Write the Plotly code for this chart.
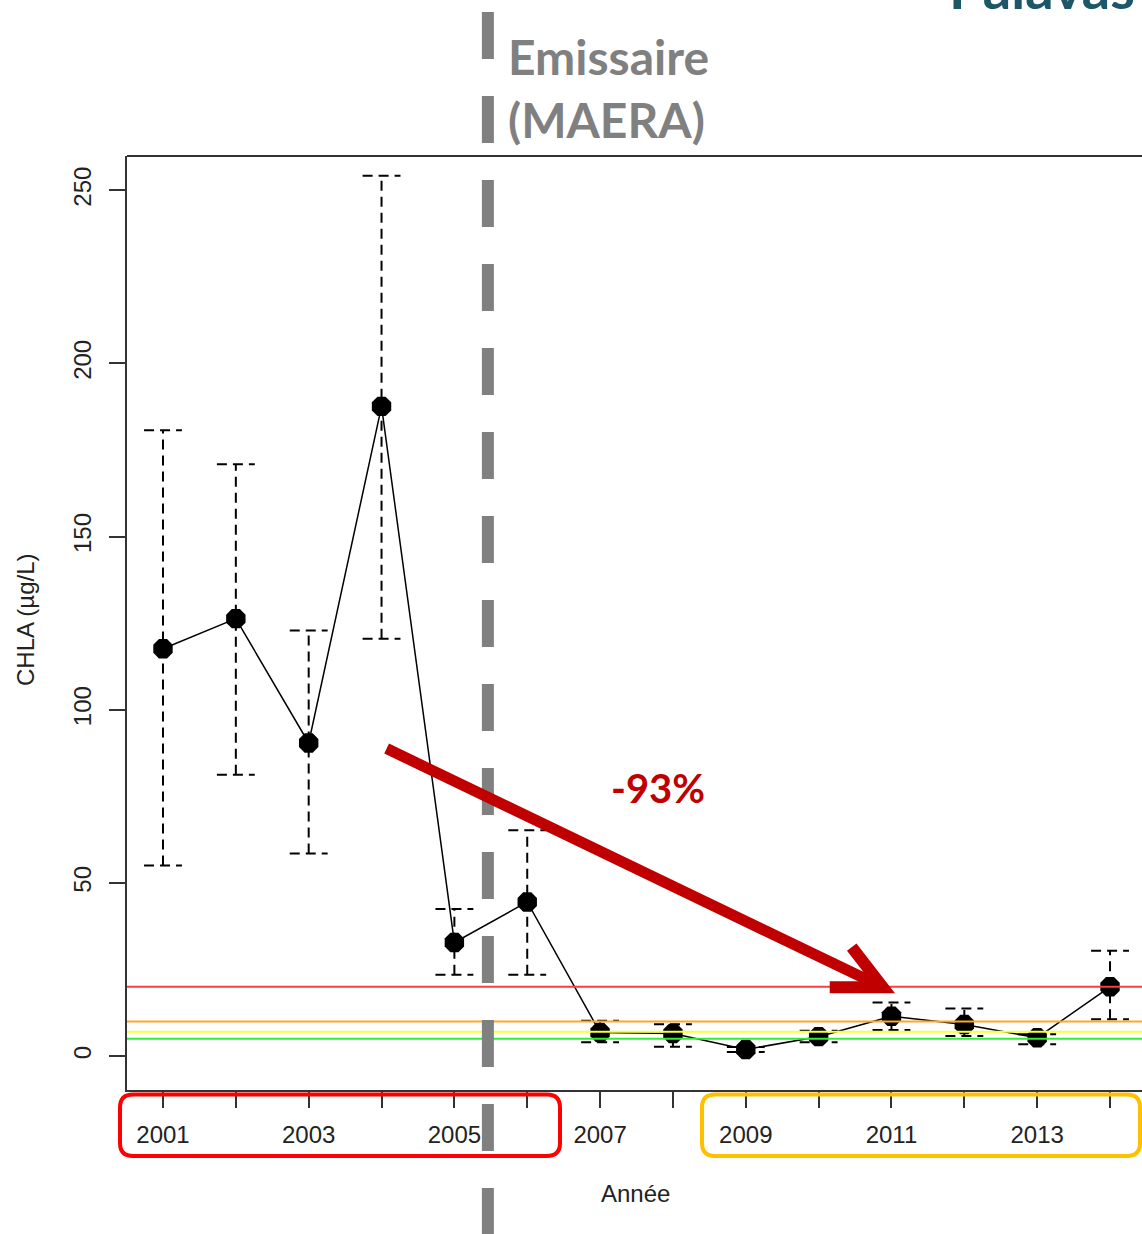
import plotly.graph_objects as go

# Chlorophyll-a yearly means (µg/L) with their upper / lower error limits
years = list(range(2001, 2015))
chla_mean = [117.6, 126.3, 90.4, 187.6, 32.8, 44.5, 6.8, 6.5, 1.9, 5.6, 11.5, 9.1, 5.3, 20.0]
chla_upper = [180.7, 170.9, 122.9, 254.2, 42.5, 65.2, 10.2, 9.2, 2.6, 7.3, 15.5, 13.7, 6.3, 30.4]
chla_lower = [55.0, 81.2, 58.5, 120.5, 23.5, 23.5, 4.0, 2.7, 1.2, 4.0, 7.5, 5.8, 3.4, 10.6]

x_tick_labels = [str(y) if y % 2 == 1 else "" for y in years]
y_tick_values = [0, 50, 100, 150, 200, 250]

# Quality-class thresholds (µg/L)
thresholds = [20, 10, 7, 5]
threshold_colors = ["#ff3b3b", "#ffa726", "#ffff2e", "#2ef02e"]

outfall_year = 2005.46          # commissioning of the sea outfall
arrow_start = (2004.07, 88.8)
arrow_end = (2010.88, 19.9)
trend_label = "-93%"

# ---- layout geometry (pixels) ----
W, H = 1142, 1234
PL, PR, PT, PB = 127, 1142, 156, 1090


def px_x(p):
    return (p - PL) / (PR - PL)


def px_y(p):
    return (PB - p) / (PB - PT)


def rounded_rect(x0, y0, x1, y1, r):
    return (f"M {x0 + r},{y0} L {x1 - r},{y0} Q {x1},{y0} {x1},{y0 + r} "
            f"L {x1},{y1 - r} Q {x1},{y1} {x1 - r},{y1} L {x0 + r},{y1} "
            f"Q {x0},{y1} {x0},{y1 - r} L {x0},{y0 + r} Q {x0},{y0} {x0 + r},{y0} Z")


R_FONT = "Liberation Sans, Arial, sans-serif"
PPT_FONT = "Lato, Open Sans, sans-serif"
AXIS_COLOR = "#333333"

# dashed error bars with caps
cap = 0.26
ex, ey = [], []
for x, lo, hi in zip(years, chla_lower, chla_upper):
    ex += [x, x, None, x - cap, x + cap, None, x - cap, x + cap, None]
    ey += [lo, hi, None, hi, hi, None, lo, lo, None]

fig = go.Figure()
fig.add_trace(go.Scatter(
    x=ex, y=ey, mode="lines",
    line=dict(color="black", width=2, dash="10px,6px"),
    hoverinfo="skip", showlegend=False,
))
fig.add_trace(go.Scatter(
    x=years, y=chla_mean, mode="lines+markers",
    line=dict(color="black", width=1.5),
    marker=dict(symbol="octagon", size=21, color="black"),
    showlegend=False,
))

shapes = []
# threshold lines
for t, c in zip(thresholds, threshold_colors):
    shapes.append(dict(type="line", xref="paper", yref="y", x0=0, x1=1, y0=t, y1=t,
                       line=dict(color=c, width=2), layer="above"))
# top frame line
shapes.append(dict(type="line", xref="paper", yref="paper", x0=0, x1=1, y0=1, y1=1,
                   line=dict(color=AXIS_COLOR, width=2)))
# outfall marker
shapes.append(dict(type="line", xref="x", yref="paper", x0=outfall_year, x1=outfall_year,
                   y0=px_y(12), y1=px_y(1250),
                   line=dict(color="#808080", width=12, dash="47px,37px"), layer="above"))
# trend arrow: shaft + open head
shapes.append(dict(type="line", xref="x", yref="y",
                   x0=arrow_start[0], y0=arrow_start[1], x1=arrow_end[0], y1=arrow_end[1],
                   line=dict(color="#c00000", width=11), layer="above"))
shapes.append(dict(type="path", xref="x", yref="y", xsizemode="pixel", ysizemode="pixel",
                   xanchor=arrow_end[0], yanchor=arrow_end[1],
                   path="M -31,40 L 0,0 L -53,0",
                   line=dict(color="#c00000", width=12), layer="above"))
# period boxes under the year labels
shapes.append(dict(type="path", xref="paper", yref="paper", xsizemode="pixel", ysizemode="pixel",
                   xanchor=0, yanchor=0, path=rounded_rect(-7, -66, 433, -4.5, 13),
                   line=dict(color="#ff0000", width=4)))
shapes.append(dict(type="path", xref="paper", yref="paper", xsizemode="pixel", ysizemode="pixel",
                   xanchor=0, yanchor=0, path=rounded_rect(575, -66, 1013, -4.5, 13),
                   line=dict(color="#ffc000", width=4)))


def label(text, x, y, size, family, color, xanchor="center", angle=0):
    return dict(text=text, x=px_x(x), y=px_y(y), xref="paper", yref="paper",
                xanchor=xanchor, yanchor="middle", textangle=angle, showarrow=False,
                font=dict(family=family, size=size, color=color))


annotations = [
    label("CHLA (µg/L)", 25, 620, 24, R_FONT, "#222", angle=-90),
    label("Année", 635, 1193, 24, R_FONT, "#222"),
    label("<b>Emissaire</b>", 506, 56, 48, PPT_FONT, "#808080", xanchor="left"),
    label("<b>(MAERA)</b>", 506, 120, 48, PPT_FONT, "#808080", xanchor="left"),
    label(f"<b>{trend_label}</b>", 658, 788, 40, PPT_FONT, "#c00000"),
    label("<b>Palavas</b>", 947, -12, 56, PPT_FONT, "#1d5667", xanchor="left"),
]

axis_common = dict(
    showline=True, linecolor=AXIS_COLOR, linewidth=2, mirror=False,
    ticks="outside", ticklen=16, tickwidth=2, tickcolor=AXIS_COLOR,
    showgrid=False, zeroline=False,
    tickfont=dict(family=R_FONT, size=24, color="#222"),
)

fig.update_layout(
    width=W, height=H,
    margin=dict(l=PL, r=W - PR, t=PT, b=H - PB, autoexpand=False),
    paper_bgcolor="white", plot_bgcolor="white",
    xaxis=dict(range=[2000.506, 2014.439], tickvals=years, ticktext=x_tick_labels,
               ticklabelstandoff=6, **axis_common),
    yaxis=dict(range=[-9.8, 259.9], tickvals=y_tick_values, tickangle=-90,
               ticklabelstandoff=8, **axis_common),
    shapes=shapes, annotations=annotations,
)

fig.write_html("out.html")
